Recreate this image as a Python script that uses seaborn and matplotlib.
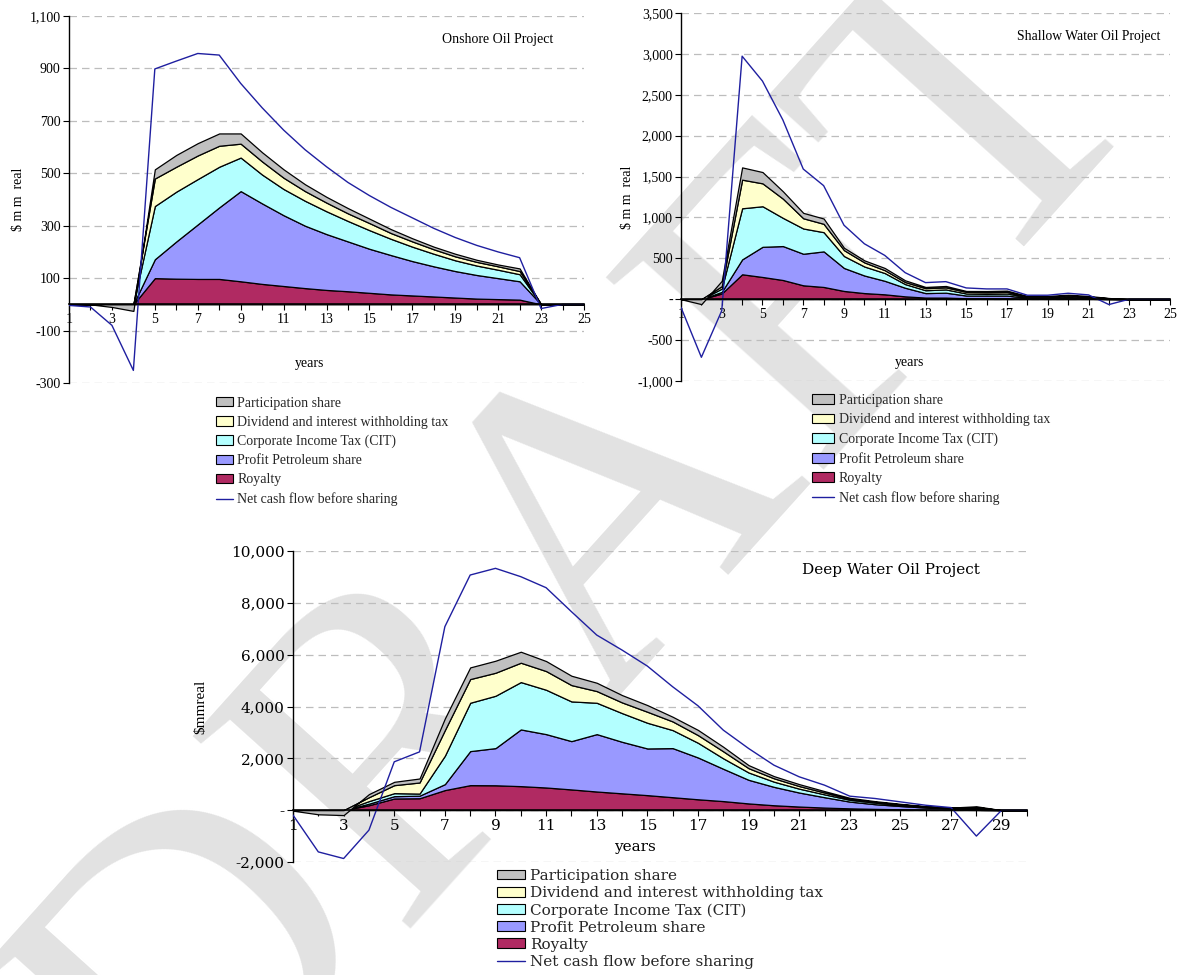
import matplotlib
matplotlib.use("Agg")
import matplotlib.pyplot as plt
import seaborn as sns
from matplotlib.ticker import FixedLocator, FuncFormatter
from matplotlib.patches import Patch
from matplotlib.lines import Line2D

# ---------------- data ----------------
legend_labels = ["Participation share", "Dividend and interest withholding tax",
                 "Corporate Income Tax (CIT)", "Profit Petroleum share", "Royalty",
                 "Net cash flow before sharing"]

# Onshore Oil Project (years 1..25)
on_years = list(range(1, 26))
on_royalty = [0, 0, 0, 0, 100, 98, 97, 97, 88, 78, 70, 62, 55, 50, 44, 38, 34, 30, 26, 22, 20, 18, 0, 0, 0]
on_pp = [0, 0, 0, 0, 72, 142, 208, 273, 344, 307, 270, 238, 213, 190, 168, 150, 131, 115, 101, 90, 80, 70, 0, 0, 0]
on_cit = [0, 0, 0, 0, 203, 190, 173, 155, 128, 110, 100, 95, 87, 78, 71, 62, 55, 48, 41, 36, 32, 27, 0, 0, 0]
on_div = [0, 0, 0, 0, 105, 95, 90, 80, 53, 50, 43, 37, 33, 29, 27, 22, 20, 17, 15, 14, 13, 12, 0, 0, 0]
on_part = [0, 0, -10, -25, 35, 45, 47, 47, 39, 35, 32, 26, 22, 20, 17, 15, 12, 10, 10, 8, 7, 10, 0, 0, 0]
on_net = [-4, -10, -80, -252, 898, 928, 957, 951, 843, 750, 665, 590, 525, 465, 415, 370, 330, 290, 255, 225,
          200, 178, -16, 0, 0]

# Shallow Water Oil Project (years 1..25)
sh_years = list(range(1, 26))
sh_royalty = [0, 0, 70, 305, 272, 235, 170, 150, 101, 75, 60, 35, 20, 20, 12, 12, 12, 5, 5, 6, 5, 2, 0, 0, 0]
sh_pp = [0, 0, 20, 182, 369, 415, 386, 435, 281, 215, 165, 105, 55, 60, 33, 33, 33, 10, 10, 14, 10, 3, 0, 0, 0]
sh_cit = [0, 0, 40, 625, 496, 345, 309, 235, 146, 110, 95, 45, 35, 40, 25, 20, 25, 10, 10, 15, 10, 3, 0, 0, 0]
sh_div = [0, 0, 30, 350, 280, 235, 125, 102, 72, 50, 35, 25, 25, 25, 20, 20, 20, 7, 7, 10, 7, 4, 0, 0, 0]
sh_part = [0, -60, 65, 150, 138, 90, 66, 65, 29, 25, 27, 21, 15, 17, 11, 15, 15, 8, 8, 10, 8, 3, 0, 0, 0]
sh_net = [-100, -710, -140, 2972, 2667, 2192, 1592, 1389, 905, 678, 536, 325, 203, 215, 138, 126, 126, 49, 49,
          73, 53, -65, 0, 0, 0]

# Deep Water Oil Project (years 1..30)
dw_years = list(range(1, 31))
dw_royalty = [0, 0, 0, 190, 450, 460, 775, 965, 960, 927, 875, 800, 720, 650, 580, 500, 420, 350, 260, 190,
              140, 100, 70, 50, 35, 20, 15, 10, 0, 0]
dw_pp = [0, 0, 0, 60, 90, 100, 229, 1313, 1434, 2188, 2059, 1864, 2214, 1988, 1801, 1894, 1613, 1246, 911, 710,
         540, 400, 260, 180, 125, 80, 55, 40, 0, 0]
dw_cit = [0, 0, 0, 100, 116, 80, 1096, 1866, 2020, 1827, 1712, 1532, 1210, 1107, 991, 695, 567, 404, 283, 200,
          150, 110, 70, 60, 40, 25, 15, 30, 0, 0]
dw_div = [0, 0, 0, 150, 309, 428, 990, 914, 888, 747, 721, 630, 451, 412, 425, 334, 296, 270, 166, 130,
          100, 70, 40, 30, 25, 15, 10, 40, 0, 0]
dw_part = [-20, -160, -190, 120, 129, 154, 450, 450, 464, 424, 386, 361, 321, 283, 257, 181, 200, 175, 117, 83,
           74, 54, 36, 27, 20, 14, 5, 30, 0, 0]
dw_net = [-190, -1610, -1866, -770, 1866, 2250, 7080, 9073, 9331, 9009, 8584, 7660, 6757, 6178, 5560, 4762,
          4028, 3089, 2381, 1737, 1287, 965, 540, 450, 320, 190, 100, -1000, 0, 0]

# ---------------- style ----------------
C_PART = "#c0c0c0"
C_DIV = "#ffffcc"
C_CIT = "#b3ffff"
C_PP = "#9999ff"
C_ROY = "#b02a62"
C_NET = "#1f1fa0"
stack_colors = [C_ROY, C_PP, C_CIT, C_DIV, C_PART]

sns.set_theme(style="white")
plt.rcParams["font.family"] = ["Liberation Serif", "DejaVu Serif"]

fig = plt.figure(figsize=(11.8, 9.75), dpi=100, facecolor="white")

# DRAFT watermark behind the charts
fig.text(0.50, 0.43, "DRAFT", rotation=48, fontsize=320, color="#e2e2e2",
         ha="center", va="center", family="Liberation Serif", zorder=-5)


def fmt(v, pos):
    if abs(v) < 1e-9:
        return "-"
    return f"{v:,.0f}"


def draw(ax, years, roy, pp, cit, div, part, net, ylim, yticks, title, ylabel,
         tickfont, tfs, ylab_x, xlab_xy, title_xy, titlefs, ylabfs):
    ax.set_facecolor("none")
    ax.stackplot(years, roy, pp, cit, div, part, colors=stack_colors,
                 edgecolor="black", linewidth=0.9, zorder=2)
    sns.lineplot(x=years, y=net, ax=ax, color=C_NET, linewidth=1.0, zorder=3)
    ax.set_xlim(years[0], years[-1])
    ax.set_ylim(*ylim)
    ax.yaxis.set_major_locator(FixedLocator(yticks))
    ax.yaxis.set_major_formatter(FuncFormatter(fmt))
    ax.xaxis.set_major_locator(FixedLocator([y for y in years if y % 2 == 1]))
    ax.xaxis.set_minor_locator(FixedLocator([y for y in years if y % 2 == 0]))
    ax.xaxis.set_major_formatter(FuncFormatter(lambda v, p: f"{int(v)}"))
    ax.yaxis.grid(True, linestyle=(0, (6, 4)), color="#bdbdbd", linewidth=0.9)
    ax.xaxis.grid(False)
    ax.set_axisbelow(True)
    for s in ["top", "right"]:
        ax.spines[s].set_visible(False)
    ax.spines["bottom"].set_position(("data", 0))
    ax.spines["bottom"].set_color("black")
    ax.spines["left"].set_color("black")
    ax.spines["bottom"].set_linewidth(1.2)
    ax.spines["left"].set_linewidth(1.0)
    ax.spines["bottom"].set_zorder(4)
    ax.tick_params(axis="both", which="both", direction="out", length=4, width=0.8,
                   colors="black", pad=2, bottom=True, left=True)
    ax.tick_params(axis="x", which="minor", length=4)
    for lab in ax.get_xticklabels() + ax.get_yticklabels():
        lab.set_family(tickfont)
        lab.set_fontsize(tfs)
    ax.set_xlabel("years", family=tickfont, fontsize=tfs, color="black")
    ax.xaxis.set_label_coords(*xlab_xy)
    ax.set_ylabel(ylabel, family="Liberation Serif", fontsize=ylabfs, color="black")
    ax.yaxis.set_label_coords(ylab_x, 0.5)
    ax.text(title_xy[0], title_xy[1], title, transform=ax.transAxes, ha="center", va="center",
            family=tickfont, fontsize=titlefs, color="black")


ax1 = fig.add_axes([69 / 1180, 1 - 383 / 975, 515 / 1180, 367 / 975])
draw(ax1, on_years, on_royalty, on_pp, on_cit, on_div, on_part, on_net, (-300, 1100),
     list(range(-300, 1101, 200)), "Onshore Oil Project", "\\$ m m  real",
     "Liberation Serif", 10, -0.085, (0.468, 0.071), (0.833, 0.935), 10, 10)

ax2 = fig.add_axes([681 / 1180, 1 - 381 / 975, 489 / 1180, 368 / 975])
draw(ax2, sh_years, sh_royalty, sh_pp, sh_cit, sh_div, sh_part, sh_net, (-1000, 3500),
     list(range(-1000, 3501, 500)), "Shallow Water Oil Project", "\\$ m m  real",
     "Liberation Serif", 10, -0.096, (0.468, 0.068), (0.834, 0.935), 9.8, 10)

ax3 = fig.add_axes([293 / 1180, 1 - 862 / 975, 734 / 1180, 311 / 975])
draw(ax3, dw_years, dw_royalty, dw_pp, dw_cit, dw_div, dw_part, dw_net, (-2000, 10000),
     list(range(-2000, 10001, 2000)), "Deep Water Oil Project", "\\$mmreal",
     "DejaVu Serif", 11, -0.117, (0.466, 0.071), (0.815, 0.939), 11, 11)


def legend_handles():
    hs = [Patch(facecolor=c, edgecolor="black", linewidth=0.8)
          for c in [C_PART, C_DIV, C_CIT, C_PP, C_ROY]]
    hs.append(Line2D([], [], color=C_NET, linewidth=1.0))
    return hs


fig.legend(legend_handles(), legend_labels, loc="upper left", bbox_to_anchor=(216 / 1180, 1 - 396.5 / 975),
           frameon=False, prop={"family": "Liberation Serif", "size": 10}, handlelength=1.25,
           handleheight=0.68, handletextpad=0.28, labelspacing=0.44, borderpad=0, borderaxespad=0)
fig.legend(legend_handles(), legend_labels, loc="upper left", bbox_to_anchor=(812 / 1180, 1 - 394 / 975),
           frameon=False, prop={"family": "Liberation Serif", "size": 10}, handlelength=1.56,
           handleheight=0.72, handletextpad=0.36, labelspacing=0.46, borderpad=0, borderaxespad=0)
fig.legend(legend_handles(), legend_labels, loc="upper left", bbox_to_anchor=(497 / 1180, 1 - 869 / 975),
           frameon=False, prop={"family": "DejaVu Serif", "size": 11}, handlelength=1.83,
           handleheight=0.6, handletextpad=0.33, labelspacing=0.2, borderpad=0, borderaxespad=0)

fig.savefig("out.png", dpi=100, facecolor="white")
